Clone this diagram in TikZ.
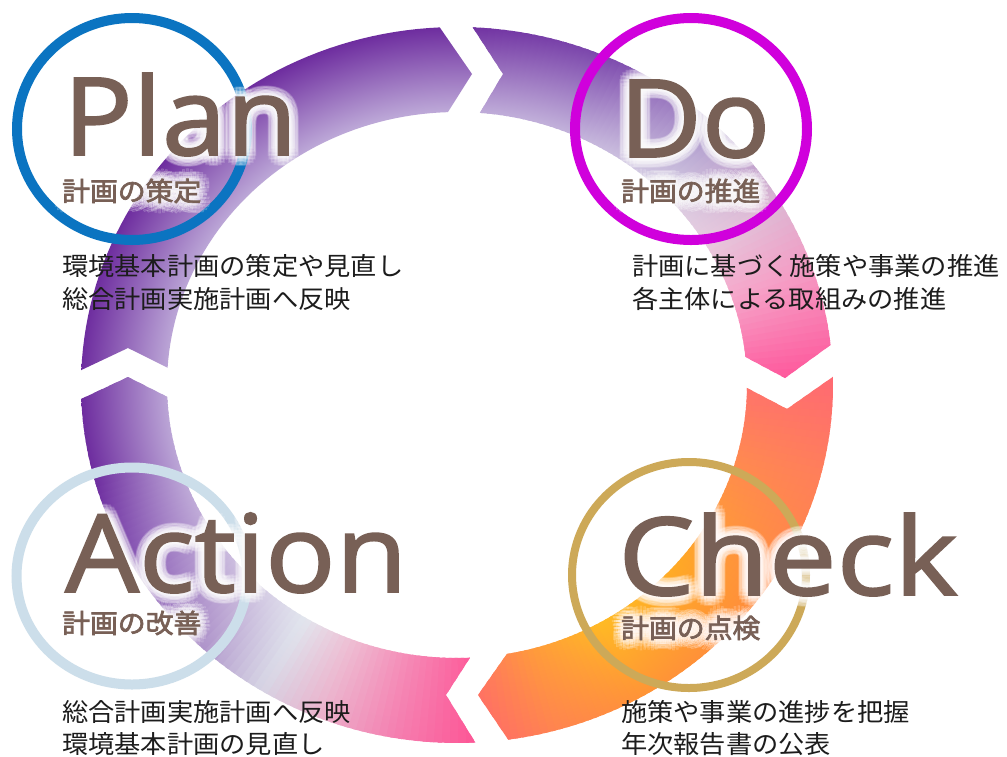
\documentclass[tikz,border=0pt]{standalone}
\usepackage{fontspec}
\usepackage{graphicx}
\setmainfont{Open Sans}
\newfontfamily\wordfont[FakeBold=1.6]{Open Sans}
\newfontfamily\jafont{Noto Sans CJK JP}
\newfontfamily\jamid[FakeBold=2.4]{Noto Sans CJK JP}

\definecolor{wordbrown}{HTML}{786056}
\definecolor{plainink}{HTML}{1C1C1C}
\definecolor{planblue}{HTML}{0B74C1}
\definecolor{domagenta}{HTML}{D000DC}
\definecolor{checkgold}{HTML}{CDA958}
\definecolor{actiongrey}{HTML}{CCDEEA}
% ring colours: O = outer edge, I = inner edge
\definecolor{pO}{HTML}{6E2D9F}\definecolor{pI}{HTML}{BCA7D7}
\definecolor{b1O}{HTML}{7E4BAE}\definecolor{b1I}{HTML}{C2B1DA}
\definecolor{b2O}{HTML}{A992C9}\definecolor{b2I}{HTML}{D5CDE3}
\definecolor{b3O}{HTML}{DDB6D3}\definecolor{b3I}{HTML}{E8CADE}
\definecolor{b4O}{HTML}{F598C2}\definecolor{b4I}{HTML}{F6A6CA}
\definecolor{b5O}{HTML}{FF4C94}\definecolor{b5I}{HTML}{FF549A}
\definecolor{c0O}{HTML}{FF6479}\definecolor{c0I}{HTML}{FF6A76}
\definecolor{c1O}{HTML}{FF7F5A}\definecolor{c1I}{HTML}{FF8852}
\definecolor{c2O}{HTML}{FF8D3C}\definecolor{c2I}{HTML}{FFA826}
\definecolor{c3O}{HTML}{FF9436}\definecolor{c3I}{HTML}{FFBA24}
\definecolor{c4O}{HTML}{FF8450}\definecolor{c4I}{HTML}{FF9A3C}
\definecolor{c5O}{HTML}{FF6470}\definecolor{c5I}{HTML}{FF7066}
\definecolor{d0O}{HTML}{FF4A8E}\definecolor{d0I}{HTML}{FF4E92}
\definecolor{d1O}{HTML}{F57FB0}\definecolor{d1I}{HTML}{F58AB6}
\definecolor{d2O}{HTML}{EAB2CC}\definecolor{d2I}{HTML}{EEBFD4}
\definecolor{d3O}{HTML}{D6D4E4}\definecolor{d3I}{HTML}{E2E6EE}
\definecolor{d4O}{HTML}{A889C6}\definecolor{d4I}{HTML}{D2C6E2}
\definecolor{d5O}{HTML}{8452B2}\definecolor{d5I}{HTML}{C2AED9}

% radial band across the ring: inner edge at 19.2bp, outer edge at 25bp
\colorlet{ringin}{white}\colorlet{ringout}{black}
\pgfdeclareradialshading[ringin,ringout]{ringband}{\pgfpointorigin}{color(0bp)=(ringin);color(19.2bp)=(ringin);color(25bp)=(ringout);color(50bp)=(ringout)}

% one stretch of a segment, coloured slice by slice between two colour stops
\newcommand\ringpiece[6]{%
  \pgfmathtruncatemacro\rpn{max(1,round((#2-#1)/1.2))}%
  \foreach \k in {1,...,\rpn}{%
    \pgfmathsetmacro\ta{#1+(\k-1)*(#2-#1)/\rpn-0.3}%
    \pgfmathsetmacro\tb{#1+\k*(#2-#1)/\rpn+0.3}%
    \pgfmathsetmacro\pc{100*(\k-0.5)/\rpn}%
    \colorlet{ringout}{#5!\pc!#3}%
    \colorlet{ringin}{#6!\pc!#4}%
    \begin{scope}
      \clip (457,385) -- ({457+460*cos(\ta)},{385+440*sin(\ta)}) -- ({457+460*cos(\tb)},{385+440*sin(\tb)}) -- cycle;
      \shade[shading=ringband] (81,27) rectangle (833,743);
    \end{scope}}}

% soft white halo behind a label
\newcommand\halo[4]{%
  \foreach \gr/\gn in {3/8,6/12,10/16}{%
    \foreach \gi in {1,...,\gn}{%
      \pgfmathsetmacro\ga{360*\gi/\gn}%
      \node[#1, name=#4-\gr-\gi, text=white, text opacity=.15, shift={({\gr*cos(\ga)},{\gr*sin(\ga)})}] at (#2) {#3};}}}

\tikzset{
  seg/.style n args={6}{insert path={
    (#6) -- plot[domain=0:1,samples=50] ({457+376*cos(#1+(#2-#1)*\x)},{385+358*sin(#1+(#2-#1)*\x)})
    -- (#5) -- plot[domain=0:1,samples=50] ({457+290*cos(#3+(#4-#3)*\x)},{385+273*sin(#3+(#4-#3)*\x)}) -- cycle}},
  bigword/.style={anchor=base west, inner sep=0, font=\wordfont\fontsize{108}{108}\selectfont, text=wordbrown},
  subword/.style={anchor=base west, inner sep=0, font=\jamid\fontsize{26.5}{30}\selectfont, text=wordbrown},
  noteword/.style={anchor=base west, inner sep=0, font=\jafont\fontsize{25}{30}\selectfont, text=plainink},
  ringmark/.style={line width=10},
}

\begin{document}
\begin{tikzpicture}[x=1pt,y=-1pt]
\useasboundingbox (0,0) rectangle (1007,756);
\fill[white] (0,0) rectangle (1007,756);

% Plan -> Do
\begin{scope}
  \clip[seg={182.4}{267.4}{268.2}{183.6}{472,74}{128,348}];
  \colorlet{ringout}{pO}\colorlet{ringin}{pI}
  \shade[shading=ringband] (81,27) rectangle (833,743);
\end{scope}
% Do -> Check
\begin{scope}
  \clip[seg={272.4}{353.6}{354.1}{274.5}{785,378}{503,74}];
  \ringpiece{268}{295}{pO}{pI}{b1O}{b1I}
  \ringpiece{295}{315}{b1O}{b1I}{b2O}{b2I}
  \ringpiece{315}{330}{b2O}{b2I}{b3O}{b3I}
  \ringpiece{330}{342}{b3O}{b3I}{b4O}{b4I}
  \ringpiece{342}{361}{b4O}{b4I}{b5O}{b5I}
\end{scope}
% Check -> Action
\begin{scope}
  \clip[seg={358.7}{442.2}{440.1}{360.6}{478,695}{787,409}];
  \ringpiece{355}{375}{c0O}{c0I}{c1O}{c1I}
  \ringpiece{375}{400}{c1O}{c1I}{c2O}{c2I}
  \ringpiece{400}{420}{c2O}{c2I}{c3O}{c3I}
  \ringpiece{420}{435}{c3O}{c3I}{c4O}{c4I}
  \ringpiece{435}{449}{c4O}{c4I}{c5O}{c5I}
\end{scope}
% Action -> Plan
\begin{scope}
  \clip[seg={87.2}{177.8}{177.5}{87.4}{128,377}{446,695}];
  \ringpiece{84}{100}{d0O}{d0I}{d1O}{d1I}
  \ringpiece{100}{112}{d1O}{d1I}{d2O}{d2I}
  \ringpiece{112}{122}{d2O}{d2I}{d3O}{d3I}
  \ringpiece{122}{135}{d3O}{d3I}{d4O}{d4I}
  \ringpiece{135}{150}{d4O}{d4I}{d5O}{d5I}
  \ringpiece{150}{165}{d5O}{d5I}{pO}{pI}
  \ringpiece{165}{186}{pO}{pI}{pO}{pI}
\end{scope}

% stage rings
\draw[ringmark, planblue] (132,129) ellipse [x radius=115, y radius=111];
\draw[ringmark, domagenta] (691,129) ellipse [x radius=116, y radius=111];
\draw[ringmark, line width=8, checkgold] (689,575) ellipse [x radius=117, y radius=113];
\draw[ringmark, actiongrey] (132,576) ellipse [x radius=115.5, y radius=108.5];

% halos
\halo{bigword}{63,155}{\scalebox{1.07}[1]{Plan}}{hp}
\halo{subword}{62,201}{\scalebox{1.05}[1]{計画の策定}}{hps}
\halo{bigword}{619,157}{\scalebox{1.05}[1]{Do}}{hd}
\halo{subword}{621,201}{\scalebox{1.05}[1]{計画の推進}}{hds}
\halo{bigword}{618,595}{\scalebox{1.12}[1]{Check}}{hc}
\halo{subword}{621,638}{\scalebox{1.05}[1]{計画の点検}}{hcs}
\halo{bigword}{65,592}{\scalebox{1.08}[1]{Action}}{ha}
\halo{subword}{62,633}{\scalebox{1.05}[1]{計画の改善}}{has}

% labels
\node[bigword] (plan) at (63,155) {\scalebox{1.07}[1]{Plan}};
\node[subword] (plan-sub) at (62,201) {\scalebox{1.05}[1]{計画の策定}};
\node[noteword] (plan-n1) at (62,275.5) {\scalebox{1.05}[1]{環境基本計画の策定や見直し}};
\node[noteword] (plan-n2) at (62,308) {\scalebox{1.05}[1]{総合計画実施計画へ反映}};

\node[bigword] (do) at (619,157) {\scalebox{1.05}[1]{Do}};
\node[subword] (do-sub) at (621,201) {\scalebox{1.05}[1]{計画の推進}};
\node[noteword] (do-n1) at (632,275.5) {\scalebox{1.05}[1]{計画に基づく施策や事業の推進}};
\node[noteword] (do-n2) at (632,308) {\scalebox{1.05}[1]{各主体による取組みの推進}};

\node[bigword] (check) at (618,595) {\scalebox{1.12}[1]{Check}};
\node[subword] (check-sub) at (621,638) {\scalebox{1.05}[1]{計画の点検}};
\node[noteword] (check-n1) at (621,721.5) {\scalebox{1.05}[1]{施策や事業の進捗を把握}};
\node[noteword] (check-n2) at (621,753.5) {\scalebox{1.05}[1]{年次報告書の公表}};

\node[bigword] (action) at (65,592) {\scalebox{1.08}[1]{Action}};
\node[subword] (action-sub) at (62,633) {\scalebox{1.05}[1]{計画の改善}};
\node[noteword] (action-n1) at (62,721.5) {\scalebox{1.05}[1]{総合計画実施計画へ反映}};
\node[noteword] (action-n2) at (62,753.5) {\scalebox{1.05}[1]{環境基本計画の見直し}};
\end{tikzpicture}
\end{document}
